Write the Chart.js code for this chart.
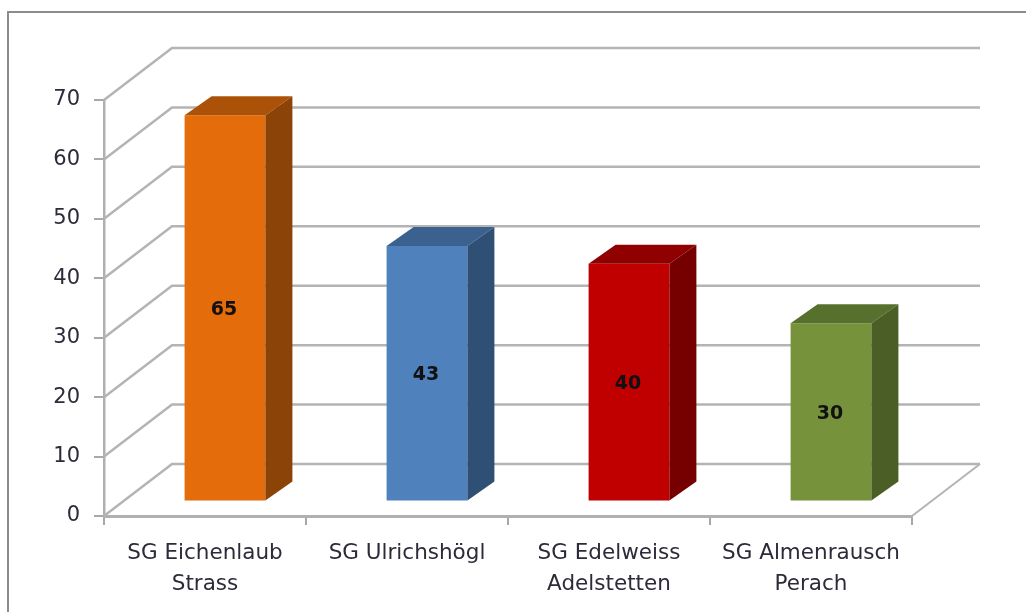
<!DOCTYPE html>
<html>
<head>
<meta charset="utf-8">
<style>
  html, body { margin: 0; padding: 0; background: #fff; overflow: hidden; }
  #wrap { position: relative; width: 1026px; height: 612px; }
  canvas { display: block; filter: blur(0.6px); }
</style>
<script src="https://cdn.jsdelivr.net/npm/chart.js@4"></script>
</head>
<body>
<div id="wrap"><canvas id="chart" width="1026" height="612"></canvas></div>
<script>
const categories = [
  ["SG Eichenlaub", "Strass"],
  ["SG Ulrichshögl", ""],
  ["SG Edelweiss", "Adelstetten"],
  ["SG Almenrausch", "Perach"]
];
const values = [65, 43, 40, 30];
const frontColors = ["#e46c0a", "#4f81bd", "#c00000", "#76933c"];
const topColors = ["#ab5208", "#3b618e", "#900000", "#58702d"];
const sideColors = ["#8c4307", "#2f4f74", "#760000", "#4a5e26"];

// depth of the walls, and where the bars sit inside that depth
const wallDepth = { x: 68, y: -52 };
const barShift = { x: 20, y: -14.5 };
const barDepth = { x: 27, y: -19 };
const gridColor = "#b4b4b4";

// back wall, side wall and floor edge, drawn from the value axis
const wallsPlugin = {
  id: "walls",
  beforeDatasetsDraw(chart) {
    const { ctx, scales: { x, y } } = chart;
    ctx.save();
    ctx.strokeStyle = gridColor;
    ctx.lineWidth = 2.5;
    y.ticks.forEach(t => {
      const py = y.getPixelForValue(t.value);
      ctx.beginPath();
      ctx.moveTo(x.left, py);
      ctx.lineTo(x.left + wallDepth.x, py + wallDepth.y);
      ctx.lineTo(x.right + wallDepth.x, py + wallDepth.y);
      ctx.stroke();
    });
    const py0 = y.getPixelForValue(0);
    ctx.beginPath();
    ctx.moveTo(x.right + wallDepth.x, py0 + wallDepth.y);
    ctx.lineTo(x.right, py0);
    ctx.lineWidth = 2;
    ctx.stroke();
    ctx.restore();
  }
};

// moves the library's bars into the room and adds top and side faces and the numbers
const depthPlugin = {
  id: "depth",
  beforeDatasetDraw(chart) {
    const ctx = chart.ctx;
    ctx.save();
    ctx.translate(barShift.x, barShift.y);
  },
  afterDatasetDraw(chart) {
    const ctx = chart.ctx;
    chart.getDatasetMeta(0).data.forEach((bar, i) => {
      const l = bar.x - bar.width / 2, r = bar.x + bar.width / 2;
      const dx = barDepth.x, dy = barDepth.y;
      ctx.fillStyle = topColors[i];
      ctx.beginPath();
      ctx.moveTo(l, bar.y);
      ctx.lineTo(l + dx, bar.y + dy);
      ctx.lineTo(r + dx, bar.y + dy);
      ctx.lineTo(r, bar.y);
      ctx.closePath();
      ctx.fill();
      ctx.fillStyle = sideColors[i];
      ctx.beginPath();
      ctx.moveTo(r, bar.y);
      ctx.lineTo(r + dx, bar.y + dy);
      ctx.lineTo(r + dx, bar.base + dy);
      ctx.lineTo(r, bar.base);
      ctx.closePath();
      ctx.fill();
      ctx.fillStyle = "#111";
      ctx.font = "bold 19px 'DejaVu Sans'";
      ctx.textAlign = "center";
      ctx.textBaseline = "middle";
      ctx.fillText(values[i], bar.x - 1, (bar.y + bar.base) / 2 + 2);
    });
    ctx.restore();
  }
};

// frame around the picture, open on the right
const framePlugin = {
  id: "frame",
  beforeDraw(chart) {
    const ctx = chart.ctx;
    ctx.save();
    ctx.strokeStyle = "#8c8c8c";
    ctx.lineWidth = 2;
    ctx.beginPath();
    ctx.moveTo(8, 612);
    ctx.lineTo(8, 12);
    ctx.lineTo(1026, 12);
    ctx.stroke();
    ctx.restore();
  }
};

new Chart(document.getElementById("chart").getContext("2d"), {
  type: "bar",
  data: {
    labels: categories,
    datasets: [{
      data: values,
      backgroundColor: frontColors,
      categoryPercentage: 0.4,
      barPercentage: 1
    }]
  },
  options: {
    responsive: false,
    animation: false,
    layout: { padding: { top: 100, right: 114, left: 0, bottom: 0 } },
    plugins: {
      legend: { display: false },
      tooltip: { enabled: false }
    },
    scales: {
      x: {
        afterFit(axis) { axis.height = 96; },
        grid: { drawOnChartArea: false, color: "#a8a8a8", lineWidth: 2, tickLength: 9 },
        border: { color: "#b0b0b0", width: 3 },
        ticks: {
          color: "#2b2b3a",
          font: { family: "DejaVu Sans", size: 21.5, lineHeight: 1.45 },
          maxRotation: 0,
          autoSkip: false,
          padding: 13
        }
      },
      y: {
        min: 0,
        max: 70,
        afterFit(axis) { axis.width = 104; },
        grid: { drawOnChartArea: false, color: "#a8a8a8", lineWidth: 2, tickLength: 10 },
        border: { color: "#b0b0b0", width: 2.5 },
        ticks: {
          stepSize: 10,
          color: "#2b2b3a",
          font: { family: "DejaVu Sans", size: 21 },
          padding: 14
        }
      }
    }
  },
  plugins: [framePlugin, wallsPlugin, depthPlugin]
});
</script>
</body>
</html>
